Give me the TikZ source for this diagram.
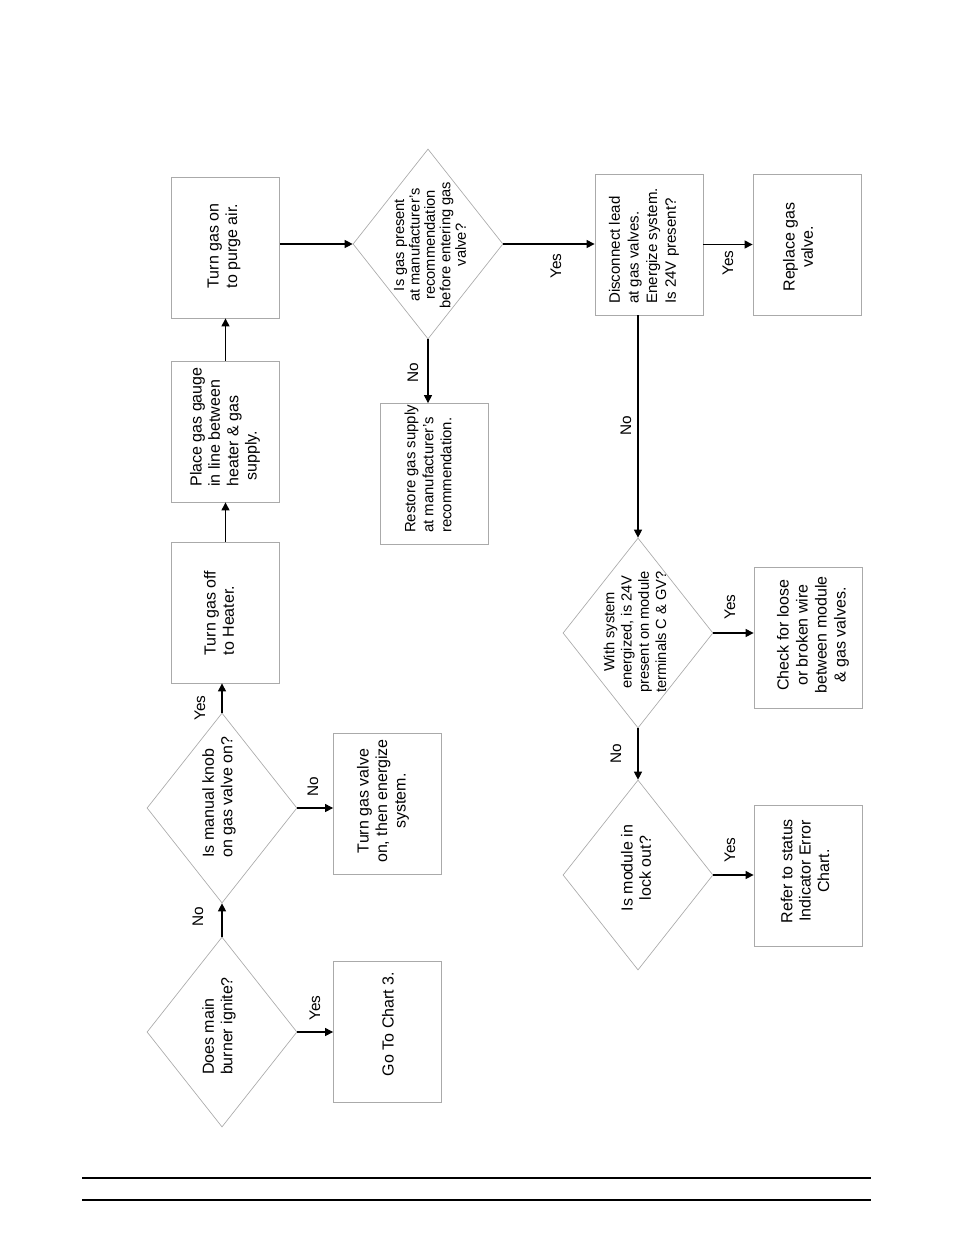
\documentclass[tikz,border=0pt]{standalone}
\usepackage{fontspec}
\setmainfont{Liberation Sans}
\usetikzlibrary{shapes.geometric,arrows.meta}
\definecolor{shapegray}{RGB}{170,170,170}
\tikzset{
  stepbox/.style={draw=shapegray, line width=0.6pt, rectangle, inner sep=0pt, minimum width=81pt, minimum height=105.75pt},
  decision/.style={draw=shapegray, line width=0.5pt, diamond, inner sep=0pt, minimum width=112.5pt, minimum height=142.5pt},
  boxtext/.style={rotate=90, align=center, font=\fontsize{12}{13.8}\selectfont, inner sep=0pt},
  smalltext/.style={rotate=90, align=left, font=\fontsize{11.2}{13.5}\selectfont, inner sep=0pt},
  dectext/.style={rotate=90, align=center, font=\fontsize{12}{13.8}\selectfont, inner sep=0pt},
  dectextsmall/.style={rotate=90, align=center, font=\fontsize{11}{11.6}\selectfont, inner sep=0pt},
  lbl/.style={rotate=90, font=\fontsize{11.5}{12}\selectfont, inner sep=0pt},
  flow/.style={draw=black, line width=0.8pt, -{Triangle[length=6pt,width=6pt]}},
  rule/.style={draw=black, line width=1.1pt}
}
\begin{document}
\begin{tikzpicture}[x=0.75pt,y=-0.75pt]
\useasboundingbox (0,0) rectangle (954,1235);

% shapes
\node[decision] (d1) at (222,1032) {};
\node[decision] (d2) at (222,808) {};
\node[decision] (d3) at (428,244) {};
\node[decision] (d4) at (638,633) {};
\node[decision] (d5) at (638,875) {};

\node[stepbox] (chart3) at (387.5,1032) {};
\node[stepbox] (tv) at (387.5,803.5) {};
\node[stepbox] (boff) at (225.5,612.5) {};
\node[stepbox] (gauge) at (225.5,431.5) {};
\node[stepbox] (bon) at (225.5,247.5) {};
\node[stepbox] (restore) at (434,474) {};
\node[stepbox] (disc) at (649,244.5) {};
\node[stepbox] (replace) at (807,245) {};
\node[stepbox] (check) at (808,638) {};
\node[stepbox] (refer) at (808,876) {};

% texts
\node[dectext, align=left] (d1t) at (219,1026) {Does main\\burner ignite?};
\node[dectext, align=left] (d2t) at (219,797) {Is manual knob\\on gas valve on?};
\node[dectextsmall] (d3t) at (430,245) {Is gas present\\at manufacturer's\\recommendation\\before entering gas\\valve?};
\node[dectextsmall, font=\fontsize{11}{12.9}\selectfont] (d4t) at (635,632) {With system\\energized, is 24V\\present on module\\terminals C \& GV?};
\node[dectext] (d5t) at (636,868) {Is module in\\lock out?};

\node[boxtext] (chart3t) at (388,1024) {Go To Chart 3.};
\node[boxtext] (tvt) at (383,801) {Turn gas valve\\on, then energize\\system.};
\node[boxtext, align=left] (bofft) at (219,613) {Turn gas off\\to Heater.};
\node[boxtext, align=left] (gauget) at (225,427) {Place gas gauge\\in line between\\heater \& gas\\\hspace*{4.5pt}supply.};
\node[boxtext, align=left] (bont) at (224,246) {Turn gas on\\to purge air.};
\node[smalltext] (restoret) at (428,469) {Restore gas supply\\at manufacturer's\\recommendation.};
\node[smalltext, font=\fontsize{11.3}{14}\selectfont] (disct) at (644,246) {Disconnect lead\\at gas valves.\\Energize system.\\Is 24V present?};
\node[boxtext] (replacet) at (798,247) {Replace gas\\valve.};
\node[boxtext, font=\fontsize{12}{14.2}\selectfont] (checkt) at (813,635) {Check for loose\\or broken wire\\between module\\\& gas valves.};
\node[boxtext] (refert) at (805,871) {Refer to status\\Indicator Error\\Chart.};

% connectors
\draw[flow] (d1.north) -- (d2.south);
\draw[flow] (d1.east) -- (chart3.west);
\draw[flow] (d2.east) -- (d2.east -| tv.west);
\draw[flow] (d2.north) -- (d2.north |- boff.south);
\draw[flow] (boff.north) -- (gauge.south);
\draw[flow] (gauge.north) -- (bon.south);
\draw[flow] (bon.east |- d3.west) -- (d3.west);
\draw[flow] (d3.south) -- (d3.south |- restore.north);
\draw[flow] (d3.east) -- (d3.east -| disc.west);
\draw[flow] (disc.east) -- (disc.east -| replace.west);
\draw[flow] (d4.north |- disc.south) -- (d4.north);
\draw[flow] (d4.east) -- (d4.east -| check.west);
\draw[flow] (d4.south) -- (d5.north);
\draw[flow] (d5.east) -- (d5.east -| refer.west);

% labels
\node[lbl] (l1) at (198,917) {No};
\node[lbl] (l2) at (315,1008) {Yes};
\node[lbl] (l3) at (313,787) {No};
\node[lbl] (l4) at (200,708) {Yes};
\node[lbl] (l5) at (413,373) {No};
\node[lbl] (l6) at (556,266) {Yes};
\node[lbl] (l7) at (728,263) {Yes};
\node[lbl] (l8) at (626,426) {No};
\node[lbl] (l9) at (730,607) {Yes};
\node[lbl] (l10) at (616,754) {No};
\node[lbl] (l11) at (730,850) {Yes};

% footer rules
\coordinate (r1a) at (82,1178);
\coordinate (r1b) at (871,1178);
\coordinate (r2a) at (82,1200);
\coordinate (r2b) at (871,1200);
\draw[rule] (r1a) -- (r1b);
\draw[rule] (r2a) -- (r2b);
\end{tikzpicture}
\end{document}
